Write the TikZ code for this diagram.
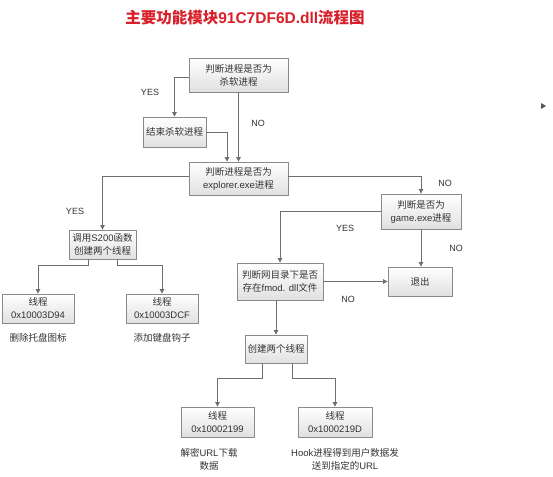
\documentclass[tikz,border=0pt]{standalone}
\usepackage{fontspec}
\setmainfont{Liberation Sans}
\newfontfamily\cjk{Noto Sans CJK SC}
\usetikzlibrary{arrows.meta,shadows}
\definecolor{titlered}{HTML}{D8202A}
\definecolor{linegray}{HTML}{6E6E6E}
\definecolor{boxborder}{HTML}{8A8A8A}
\definecolor{txtgray}{HTML}{333333}
\newcommand\zhtxt[1]{{\cjk #1}}
\tikzset{
  flowbox/.style={draw=boxborder, line width=0.8pt, top color=white, bottom color=black!12,
    align=center, inner sep=1pt, text=txtgray, font=\fontsize{9.5}{13}\selectfont,
    drop shadow={opacity=0.2, shadow xshift=1pt, shadow yshift=-1pt}},
  arr/.style={draw=linegray, line width=0.8pt, -{Triangle[width=4.5pt,length=4.5pt]}},
  lbl/.style={font=\fontsize{9}{11}\selectfont, text=txtgray},
  note/.style={align=center, font=\fontsize{9.5}{13}\selectfont, text=txtgray}
}
\begin{document}
\begin{tikzpicture}[x=1pt,y=-1pt]
\useasboundingbox[fill=white] (0,0) rectangle (553,476);
% title
\node[text=titlered, font=\fontsize{15.5}{18}\selectfont\bfseries] (title) at (245,18)
  {\zhtxt{主要功能模块}91C7DF6D.dll\zhtxt{流程图}};
% boxes
\node[flowbox, minimum width=99pt, minimum height=34pt] (b1) at (238.5,75) {\zhtxt{判断进程是否为}\\\zhtxt{杀软进程}};
\node[flowbox, minimum width=63pt, minimum height=30pt] (b2) at (174.5,132) {\zhtxt{结束杀软进程}};
\node[flowbox, minimum width=99pt, minimum height=33pt] (b3) at (238.5,178.5) {\zhtxt{判断进程是否为}\\explorer.exe\zhtxt{进程}};
\node[flowbox, minimum width=67pt, minimum height=29pt] (b4) at (102.5,244.5) {\zhtxt{调用}S200\zhtxt{函数}\\\zhtxt{创建两个线程}};
\node[flowbox, minimum width=72pt, minimum height=29pt] (b5) at (38,308.5) {\zhtxt{线程}\\0x10003D94};
\node[flowbox, minimum width=72pt, minimum height=29pt] (b6) at (162,308.5) {\zhtxt{线程}\\0x10003DCF};
\node[flowbox, minimum width=80pt, minimum height=35pt] (b7) at (421,211.5) {\zhtxt{判断是否为}\\game.exe\zhtxt{进程}};
\node[flowbox, minimum width=86pt, minimum height=37pt] (b8) at (280,281.5) {\zhtxt{判断网目录下是否}\\\zhtxt{存在}fmod. dll\zhtxt{文件}};
\node[flowbox, minimum width=64pt, minimum height=29pt] (b9) at (420,281.5) {\zhtxt{退出}};
\node[flowbox, minimum width=62pt, minimum height=28pt] (b10) at (276,349) {\zhtxt{创建两个线程}};
\node[flowbox, minimum width=73pt, minimum height=30pt] (b11) at (217.5,422) {\zhtxt{线程}\\0x10002199};
\node[flowbox, minimum width=74pt, minimum height=30pt] (b12) at (335,422) {\zhtxt{线程}\\0x1000219D};
% notes
\node[note] (n5) at (38,338) {\zhtxt{删除托盘图标}};
\node[note] (n6) at (162,338) {\zhtxt{添加键盘钩子}};
\node[note] (n11) at (209,459) {\zhtxt{解密}URL\zhtxt{下载}\\\zhtxt{数据}};
\node[note] (n12) at (345,459) {Hook\zhtxt{进程得到用户数据发}\\\zhtxt{送到指定的}URL};
% labels
\node[lbl] (y1) at (150,92) {YES};
\node[lbl] (no1) at (258,123) {NO};
\node[lbl] (y2) at (75,211) {YES};
\node[lbl] (no2) at (445,183) {NO};
\node[lbl] (y3) at (345,228) {YES};
\node[lbl] (no3) at (456,248) {NO};
\node[lbl] (no4) at (348,299) {NO};
% connectors
\draw[arr] ([yshift=-2pt]b1.west) -| (b2.north);
\draw[arr] (b1.south) -- (b3.north);
\draw[arr] (b2.east) -| ([xshift=-11.5pt]b3.north);
\draw[arr] ([yshift=2pt]b3.west) -| (b4.north);
\draw[arr] ([yshift=2pt]b3.east) -| (b7.north);
\draw[arr] (b7.west) -| (b8.north);
\draw[arr] (b7.south) -- (b7.south |- b9.north);
\draw[arr] (b8.east) -- (b9.west);
\draw[arr] (b10.north |- b8.south) -- (b10.north);
\draw[arr] ([xshift=-14.5pt]b4.south) -- ++(0,6) -| (b5.north);
\draw[arr] ([xshift=14.5pt]b4.south) -- ++(0,6) -| (b6.north);
\draw[arr] ([xshift=-14pt]b10.south) -- ++(0,15) -| (b11.north);
\draw[arr] ([xshift=16pt]b10.south) -- ++(0,15) -| (b12.north);
% small marker at right
\fill[black!65] (541,103) -- (546,106) -- (541,109) -- cycle;
\end{tikzpicture}
\end{document}
